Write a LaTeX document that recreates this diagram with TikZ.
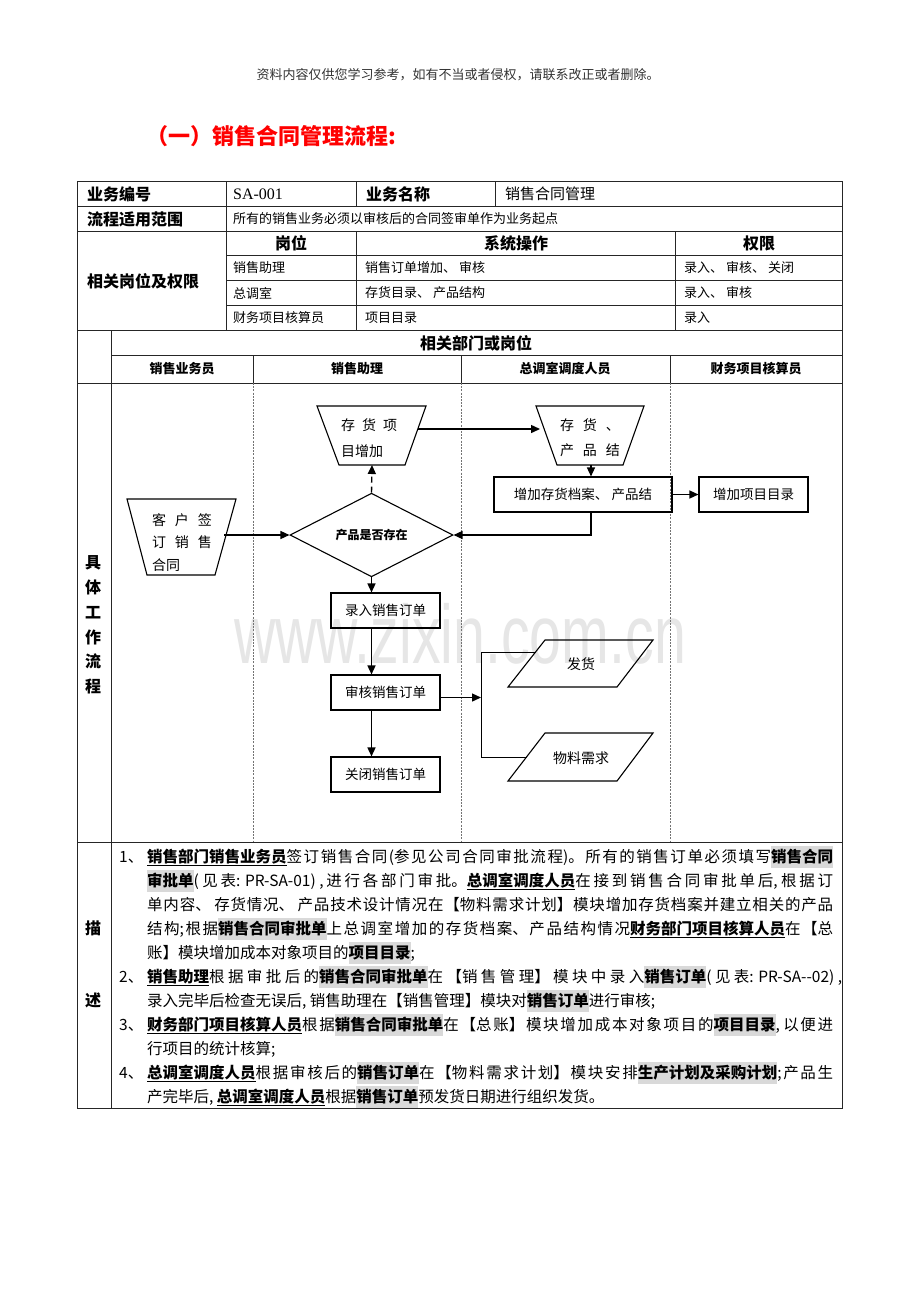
\documentclass[tikz,border=0pt]{standalone}
\usepackage{fontspec}
\setmainfont{Noto Sans CJK SC}
\newfontfamily\timesf{Liberation Serif}
\newfontfamily\wmfont{Liberation Sans}
\usetikzlibrary{arrows.meta,shapes.geometric,calc}
\definecolor{hlg}{HTML}{D9D9D9}
\definecolor{wmc}{HTML}{E6E6E6}
\definecolor{ttlred}{HTML}{FF0000}
\newcommand\fs[1]{\fontsize{#1}{#1}\selectfont}
\newcommand\hlt[1]{{\setlength\fboxsep{0pt}\colorbox{hlg}{\rule[-6pt]{0pt}{22pt}\bfseries #1}}}
\newcommand\bul[1]{\underline{\bfseries #1}}
\newcommand\jline[2][686pt]{\parbox[b]{#1}{\XeTeXlinebreaklocale "zh"\XeTeXlinebreakskip=0pt plus 1fil\relax\parfillskip=0pt\relax\fs{15.5}#2}}
\newcommand\lline[1]{\fs{15.5}#1}
\begin{document}
\begin{tikzpicture}[x=1pt,y=-1pt,
  tl/.style={line width=0.8pt, draw=black!85},
  lanel/.style={line width=0.6pt, draw=black!55, dash pattern=on 2pt off 1.2pt},
  shp/.style={draw=black, line width=1.1pt},
  box/.style={draw=black, line width=1.1pt, minimum width=109pt, minimum height=35pt, inner sep=0pt, font=\fs{13.5}},
  arr/.style={-{Triangle[length=9pt,width=8pt]}, line width=1.4pt},
  thinl/.style={line width=0.9pt},
  lt/.style={anchor=west, inner sep=0pt, font=\fs{13}},
  bt/.style={anchor=west, inner sep=0pt, font=\fs{16}\bfseries},
  ct/.style={inner sep=0pt, font=\fs{16}\bfseries},
  dl/.style={anchor=base west, inner sep=0pt, font=\fs{15.5}}
]
\fill[white] (0,0) rectangle (920,1302);
\useasboundingbox (0,0) rectangle (920,1302);

% watermark
\node[text=wmc, inner sep=0pt] (wm) at (460,634) {\scalebox{0.69}[1]{\wmfont\fontsize{83}{83}\selectfont www.zixin.com.cn}};

% header and title
\node[font=\fs{13}, text=black!80, inner sep=0pt] (note) at (458,75) {资料内容仅供您学习参考，如有不当或者侵权，请联系改正或者删除。};
\node[anchor=west, inner sep=0pt, font=\fs{22}\bfseries, text=ttlred] (title) at (146,136) {（一）销售合同管理流程:};

% table lines
\draw[tl] (77,181) rectangle (842,1108);
\draw[tl] (77,206) -- (842,206);
\draw[tl] (77,231) -- (842,231);
\draw[tl] (226,255) -- (842,255);
\draw[tl] (226,280) -- (842,280);
\draw[tl] (226,305) -- (842,305);
\draw[tl] (77,330) -- (842,330);
\draw[tl] (111,355) -- (842,355);
\draw[tl] (77,383) -- (842,383);
\draw[tl] (77,842) -- (842,842);
\draw[tl] (226,181) -- (226,330);
\draw[tl] (356,181) -- (356,206);
\draw[tl] (495,181) -- (495,206);
\draw[tl] (356,231) -- (356,330);
\draw[tl] (675,231) -- (675,330);
\draw[tl] (111,330) -- (111,1108);
\draw[tl] (253,355) -- (253,383);
\draw[tl] (461,355) -- (461,383);
\draw[tl] (670,355) -- (670,383);
\draw[lanel] (253,383) -- (253,842);
\draw[lanel] (461,383) -- (461,842);
\draw[lanel] (670,383) -- (670,842);

% table texts
\node[bt] (t11) at (87,194) {业务编号};
\node[lt, font=\timesf\fs{16}] (t12) at (233,194) {SA-001};
\node[bt] (t13) at (366,194) {业务名称};
\node[lt, font=\fs{15}] (t14) at (505,194) {销售合同管理};
\node[bt] (t21) at (87,219) {流程适用范围};
\node[lt] (t22) at (233,219) {所有的销售业务必须以审核后的合同签审单作为业务起点};
\node[ct] (h1) at (291,243) {岗位};
\node[ct] (h2) at (516,243) {系统操作};
\node[ct] (h3) at (759,243) {权限};
\node[bt] (t3l) at (87,281) {相关岗位及权限};
\node[lt] (r41) at (233,268) {销售助理};
\node[lt] (r42) at (365,268) {销售订单增加、 审核};
\node[lt] (r43) at (684,268) {录入、 审核、 关闭};
\node[lt] (r51) at (233,293) {总调室};
\node[lt] (r52) at (365,293) {存货目录、 产品结构};
\node[lt] (r53) at (684,293) {录入、 审核};
\node[lt] (r61) at (233,318) {财务项目核算员};
\node[lt] (r62) at (365,318) {项目目录};
\node[lt] (r63) at (684,318) {录入};
\node[ct] (dept) at (476,343) {相关部门或岗位};
\node[ct, font=\fs{13}\bfseries] (ln1) at (182,369) {销售业务员};
\node[ct, font=\fs{13}\bfseries] (ln2) at (357,369) {销售助理};
\node[ct, font=\fs{13}\bfseries] (ln3) at (565,369) {总调室调度人员};
\node[ct, font=\fs{13}\bfseries] (ln4) at (756,369) {财务项目核算员};
\node[ct, align=center, font=\fontsize{16}{24.8}\selectfont\bfseries] (vt) at (93,625) {具\\体\\工\\作\\流\\程};
\node[ct] (ms1) at (93,928) {描};
\node[ct] (ms2) at (93,1000) {述};

% flow shapes
\draw[shp] (127,499) -- (236,499) -- (215,575) -- (147,575) -- cycle;
\begin{scope}
\clip (127,499) rectangle (236,570);
\node[align=left, font=\fontsize{14}{22.5}\selectfont, inner sep=0pt] (cust) at (182,542.5) {客\hspace{9pt}户\hspace{9pt}签\\订\hspace{9pt}销\hspace{9pt}售\\合同};
\end{scope}
\draw[shp] (317,406) -- (426,406) -- (405,465) -- (339,465) -- cycle;
\node[align=left, font=\fontsize{14}{26}\selectfont, inner sep=0pt] (inv) at (369,438) {存\hspace{7pt}货\hspace{7pt}项\\目增加};
\draw[shp] (536,406) -- (644,406) -- (623,465) -- (557,465) -- cycle;
\node[align=left, font=\fontsize{14}{25}\selectfont, inner sep=0pt] (pp) at (590,437.5) {存\hspace{9pt}货\hspace{9pt}、\\产\hspace{9pt}品\hspace{9pt}结};
\node[diamond, shp, minimum width=163pt, minimum height=46pt, inner sep=0pt, font=\fs{12}\bfseries] (dia) at (371.5,535) {产品是否存在};
\node[box, minimum width=178pt] (addbox) at (583,494.5) {增加存货档案、 产品结};
\node[box] (projbox) at (753.5,494.5) {增加项目目录};
\node[box] (entry) at (385.5,610.5) {录入销售订单};
\node[box] (audit) at (385.5,692.5) {审核销售订单};
\node[box] (close) at (385.5,774.5) {关闭销售订单};
\draw[shp] (545,640) -- (653,640) -- (617,687) -- (508,687) -- cycle;
\node[inner sep=0pt, font=\fs{14}] (ship) at (581,664) {发货};
\draw[shp] (545,733) -- (653,733) -- (617,781) -- (508,781) -- cycle;
\node[inner sep=0pt, font=\fs{14}] (mat) at (581,758) {物料需求};

\coordinate (custR) at (224,535);
\coordinate (invB) at (372,465);
\coordinate (invR) at (418,429);
\coordinate (ppL) at (540,429);
\coordinate (ppB) at (591,465);
\coordinate (fork) at (481,697);
\coordinate (forkT) at (481,652);
\coordinate (forkB) at (481,757);
\coordinate (shipL) at (536,652);
\coordinate (matL) at (527,757);

% connectors
\draw[arr] (custR) -- (dia.west);
\draw[arr, dash pattern=on 6pt off 4pt] (dia.north) -- (invB);
\draw[arr] (invR) -- (ppL);
\draw[arr] (ppB) -- (ppB |- addbox.north);
\draw[arr] (addbox.east) -- (projbox.west);
\draw[arr] (ppB |- addbox.south) |- (dia.east);
\draw[arr] (dia.south) -- (dia.south |- entry.north);
\draw[arr] (dia.south |- entry.south) -- (dia.south |- audit.north);
\draw[arr] (dia.south |- audit.south) -- (dia.south |- close.north);
\draw[arr] ([yshift=-5pt]audit.east) -- ([yshift=-5pt]audit.east -| fork);
\draw[thinl] (forkT) -- (forkB);
\draw[thinl] (forkT) -- (shipL);
\draw[thinl] (forkB) -- (matL);

% description
\node[dl] (n1) at (119,862) {1、};
\node[dl] (d1) at (147,862) {\jline{\bul{销售部门销售业务员}签订销售合同(参见公司合同审批流程)。所有的销售订单必须填写\hlt{销售合同}}};
\node[dl] (d2) at (147,886) {\jline{\hlt{审批单}( 见表: PR-SA-01) ,进行各部门审批。\bul{总调室调度人员}在接到销售合同审批单后, 根据订}};
\node[dl] (d3) at (147,910) {\jline{单内容、 存货情况、 产品技术设计情况在【物料需求计划】模块增加存货档案并建立相关的产品}};
\node[dl] (d4) at (147,934) {\jline{结构;根据\hlt{销售合同审批单}上总调室增加的存货档案、产品结构情况\bul{财务部门项目核算人员}在【总}};
\node[dl] (d5) at (147,958) {\lline{账】模块增加成本对象项目的\hlt{项目目录};}};
\node[dl] (n2) at (119,982) {2、};
\node[dl] (d6) at (147,982) {\jline[695pt]{\bul{销售助理}根据审批后的\hlt{销售合同审批单}在【销售管理】模块中录入\hlt{销售订单}( 见表: PR-SA-{}-02) ,}};
\node[dl] (d7) at (147,1006) {\lline{录入完毕后检查无误后, 销售助理在【销售管理】模块对\hlt{销售订单}进行审核;}};
\node[dl] (n3) at (119,1030) {3、};
\node[dl] (d8) at (147,1030) {\jline{\bul{财务部门项目核算人员}根据\hlt{销售合同审批单}在【总账】模块增加成本对象项目的\hlt{项目目录}, 以便进}};
\node[dl] (d9) at (147,1054) {\lline{行项目的统计核算;}};
\node[dl] (n4) at (119,1078) {4、};
\node[dl] (d10) at (147,1078) {\jline{\bul{总调室调度人员}根据审核后的\hlt{销售订单}在【物料需求计划】模块安排\hlt{生产计划及采购计划};产品生}};
\node[dl] (d11) at (147,1102) {\lline{产完毕后, \bul{总调室调度人员}根据\hlt{销售订单}预发货日期进行组织发货。}};
\end{tikzpicture}
\end{document}
